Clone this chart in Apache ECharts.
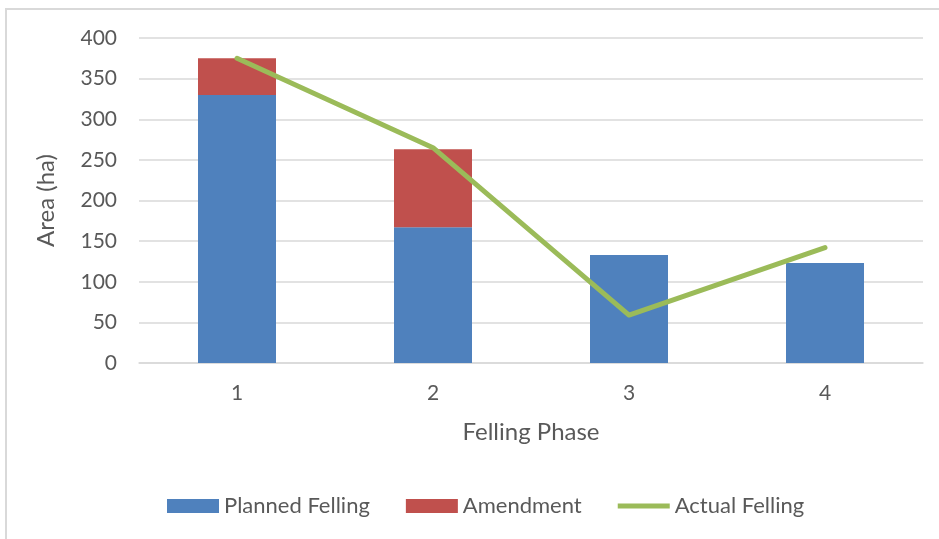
<!DOCTYPE html>
<html>
<head>
<meta charset="utf-8">
<script src="https://cdn.jsdelivr.net/npm/echarts@6/dist/echarts.min.js"></script>
<style>html,body{margin:0;padding:0;background:#fff}#c{width:939px;height:539px}</style>
</head>
<body>
<div id="c"></div>
<script>
const categories = ['1', '2', '3', '4'];
const plannedFelling = [330, 167, 133, 123];
const amendment = [45, 96, null, null];
const actualFelling = [375, 265, 59, 142];
const yTicks = [0, 50, 100, 150, 200, 250, 300, 350, 400];

const FONT = 'Lato, "Open Sans", sans-serif';
const TXT = '#595959';
const chart = echarts.init(document.getElementById('c'), null, {renderer: 'canvas'});
chart.setOption({
  animation: false,
  textStyle: {fontFamily: FONT},
  graphic: [{
    type: 'rect', silent: true, z: -1,
    shape: {x: 6, y: 9, width: 1200, height: 1200},
    style: {fill: 'none', stroke: '#d9d9d9', lineWidth: 2}
  }],
  grid: {left: 139, right: 16, top: 38, bottom: 176},
  legend: {
    left: 162, top: 490,
    itemWidth: 52, itemHeight: 14, itemGap: 36,
    textStyle: {fontSize: 22, color: TXT, fontFamily: FONT},
    data: [
      {name: 'Planned Felling', icon: 'rect'},
      {name: 'Amendment', icon: 'rect'},
      {name: 'Actual Felling', icon: 'path://M0,0L0,0M0,4.5L52,4.5L52,9.5L0,9.5ZM52,14L52,14'}
    ]
  },
  xAxis: {
    type: 'category', data: categories,
    name: 'Felling Phase', nameLocation: 'middle', nameGap: 57,
    nameTextStyle: {fontSize: 24, color: TXT, fontFamily: FONT},
    axisLine: {show: true, lineStyle: {color: '#d9d9d9', width: 1.5}},
    axisTick: {show: false},
    axisLabel: {fontSize: 21, color: TXT, margin: 20, fontFamily: FONT}
  },
  yAxis: {
    type: 'value', min: yTicks[0], max: yTicks[yTicks.length - 1], interval: 50,
    name: 'Area (ha)', nameLocation: 'middle', nameGap: 81, nameRotate: 90,
    nameTextStyle: {fontSize: 24, color: TXT, fontFamily: FONT},
    axisLine: {show: false}, axisTick: {show: false},
    axisLabel: {fontSize: 21, color: TXT, margin: 22, fontFamily: FONT},
    splitLine: {lineStyle: {color: '#d9d9d9', width: 1.5}}
  },
  series: [
    {name: 'Planned Felling', type: 'bar', stack: 's', data: plannedFelling, barWidth: 78,
     itemStyle: {color: '#4f81bd'}},
    {name: 'Amendment', type: 'bar', stack: 's', data: amendment, barWidth: 78,
     itemStyle: {color: '#c0504d'}},
    {name: 'Actual Felling', type: 'line', data: actualFelling, showSymbol: false, symbol: 'none',
     lineStyle: {color: '#9bbb59', width: 5, cap: 'round', join: 'round'},
     itemStyle: {color: '#9bbb59'}, z: 5}
  ]
});
</script>
</body>
</html>
